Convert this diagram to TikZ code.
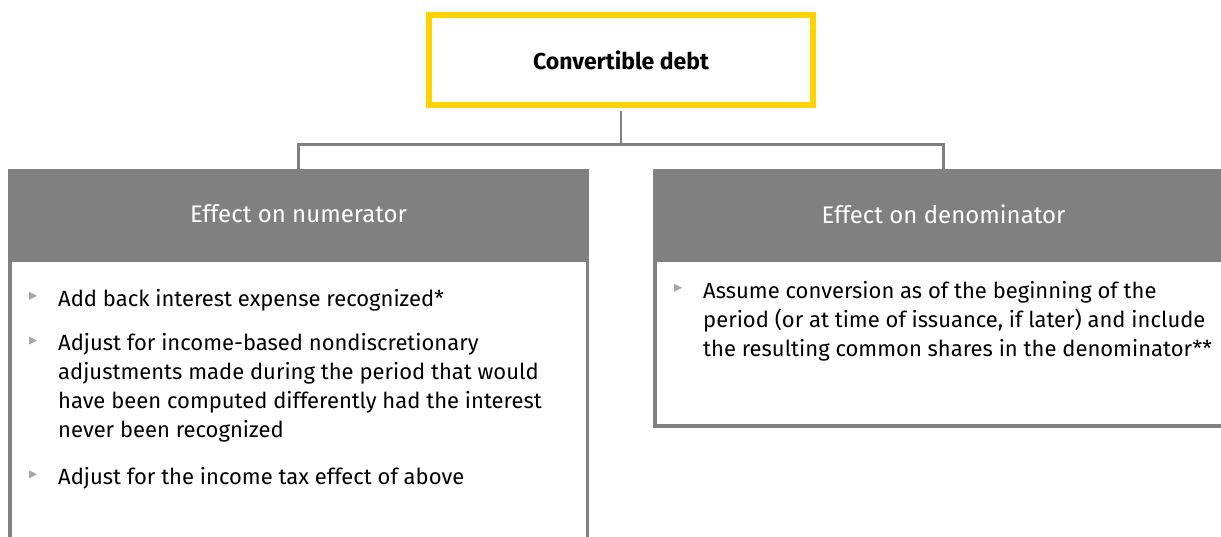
\documentclass[tikz,border=0pt]{standalone}
\usepackage{fontspec}
\setmainfont{Fira Sans}
\usetikzlibrary{positioning}
\definecolor{debtyellow}{HTML}{FFD200}
\definecolor{headgray}{HTML}{808080}
\definecolor{bulletgray}{HTML}{A6A6A6}
\tikzset{
  topbox/.style={draw=debtyellow, line width=6pt, minimum width=384pt, minimum height=90pt,
    font=\fontsize{23}{27}\selectfont\bfseries},
  headbox/.style={fill=headgray, minimum width=581pt, minimum height=90pt, text=white,
    font=\fontsize{24}{28}\selectfont},
  bodybox/.style={draw=headgray, line width=3.5pt, minimum width=577.5pt, anchor=north},
  itemtext/.style={align=left, anchor=north west, inner sep=0pt, font=\fontsize{22}{29}\selectfont},
  link/.style={draw=headgray, line width=2.5pt},
}
% small grey triangle in front of an item
\newcommand{\bul}[1]{\fill[bulletgray] ([xshift=-29pt,yshift=-3pt]#1.north west) -- ++(0,-8) -- ++(8,4) -- cycle;}
\begin{document}
\begin{tikzpicture}[x=1pt, y=1pt]
  \useasboundingbox (0,0) rectangle (1221,-537);
  \clip (0,0) rectangle (1221,-537);
  % body frames
  \node[bodybox, minimum height=292pt] (numbody) at (298.5,-259) {};
  \node[bodybox, minimum height=165pt] (denbody) at (943.5,-259) {};
  % headers
  \node[headbox] (numhead) at (298.5,-214) {Effect on numerator};
  \node[headbox] (denhead) at (943.5,-214) {Effect on denominator};
  % top
  \node[topbox] (debt) at (621,-60) {Convertible debt};
  \coordinate (split) at (621,-144.5);
  \draw[link, shorten <=3pt] (debt.south) -- (split);
  \draw[link] (numhead.north) |- (split) -| (denhead.north);
  % numerator items
  \node[itemtext] (num1) at (58,-288.8) {Add back interest expense recognized*};
  \node[itemtext, below=22.5pt of num1.south west, anchor=north west] (num2)
    {Adjust for income-based nondiscretionary\\
     adjustments made during the period that would\\
     have been computed differently had the interest\\
     never been recognized};
  \node[itemtext, below=24.5pt of num2.south west, anchor=north west] (num3)
    {Adjust for the income tax effect of above};
  \bul{num1} \bul{num2} \bul{num3}
  % denominator item
  \node[itemtext] (den1) at (703,-280.8)
    {Assume conversion as of the beginning of the\\
     period (or at time of issuance, if later) and include\\
     the resulting common shares in the denominator**};
  \bul{den1}
\end{tikzpicture}
\end{document}
